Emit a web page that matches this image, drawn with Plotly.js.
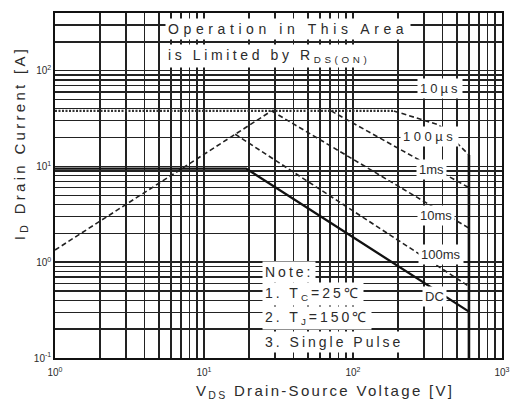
<!DOCTYPE html>
<html>
<head>
<meta charset="utf-8">
<script src="https://cdn.plot.ly/plotly-3.0.1.min.js"></script>
<style>
  html, body { margin: 0; padding: 0; background: #fff; }
  #chart { width: 512px; height: 410px; }
</style>
</head>
<body>
<div id="chart"></div>
<script>
// ---- Data (V in volts, I in amperes) ----
const vRds = [1, 28.4];            const iRds = [1.34, 38];          // R_DS(on) limit
const vIdm = [1, 188];             const iIdm = [38, 38];            // pulsed current limit
const v10us = [188, 376, 600];     const i10us = [38, 27.2, 13.2];
const v100us = [71.3, 600];        const i100us = [38, 6.0];
const v1ms = [28.4, 600];          const i1ms = [38, 2.27];
const v10ms = [16.2, 600];         const i10ms = [21.7, 0.56];
const vDC = [1, 19.2, 600];        const iDC = [9.5, 9.5, 0.305];
const vBV = [600, 600];            const iBV = [0.1, 13.2];          // V_DSS limit

const xTickVals = [1, 10, 100, 1000];
const xTickText = ['10<sup>0</sup>', '10<sup>1</sup>', '10<sup>2</sup>', '10<sup>3</sup>'];
const yTickVals = [0.1, 1, 10, 100];
const yTickText = ['10<sup>-1</sup>', '10<sup>0</sup>', '10<sup>1</sup>', '10<sup>2</sup>'];

const pulseLabels = ['10µs', '100µs', '1ms', '10ms', '100ms', 'DC'];

const INK = '#2b2b2b';
const FONT = 'Liberation Sans, Arial, sans-serif';

function ls(txt, px) { return '<span style="letter-spacing:' + px + 'px">' + txt + '</span>'; }

const dashLine = {color: '#222', width: 1.6, dash: '5px,3px'};
const traces = [
  {x: vRds, y: iRds, mode: 'lines', line: dashLine, name: 'RDS(on)'},
  {x: vIdm, y: iIdm, mode: 'lines', line: {color: '#333', width: 2.4, dash: '2px,1.5px'}, name: 'IDM'},
  {x: v10us, y: i10us, mode: 'lines', line: dashLine, name: pulseLabels[0]},
  {x: v100us, y: i100us, mode: 'lines', line: dashLine, name: pulseLabels[1]},
  {x: v1ms, y: i1ms, mode: 'lines', line: dashLine, name: pulseLabels[2]},
  {x: v10ms, y: i10ms, mode: 'lines', line: dashLine, name: pulseLabels[3]},
  {x: vDC, y: iDC, mode: 'lines', line: {color: '#111', width: 2.3}, name: pulseLabels[5]},
  {x: vBV, y: iBV, mode: 'lines', line: {color: '#111', width: 2.6}, name: 'VDSS'}
];

const GRID = '#222';
const axisCommon = {
  type: 'log',
  showgrid: true, gridcolor: GRID, gridwidth: 1.5,
  minor: {tickmode: 'linear', dtick: 'D1', showgrid: true, gridcolor: GRID, gridwidth: 1.4, ticks: ''},
  showline: true, mirror: true, linecolor: '#111', linewidth: 1.8,
  ticks: '', tickmode: 'array',
  tickfont: {family: FONT, size: 10, color: INK},
  zeroline: false
};

const layout = {
  width: 512, height: 410,
  margin: {l: 55, r: 10, t: 13, b: 52},
  paper_bgcolor: '#fff', plot_bgcolor: '#fff',
  showlegend: false,
  font: {family: FONT, color: INK},
  xaxis: Object.assign({}, axisCommon, {
    range: [0, 3], tickvals: xTickVals, ticktext: xTickText, ticklabelstandoff: 4
  }),
  yaxis: Object.assign({}, axisCommon, {
    range: [-1, Math.log10(400)], tickvals: yTickVals, ticktext: yTickText
  }),
  annotations: []
};

function note(text, xp, yp, size, spacing, anchor, bg) {
  return {
    xref: 'paper', yref: 'paper', x: xp, y: yp,
    xanchor: anchor || 'center', yanchor: 'middle',
    text: ls(text, spacing), showarrow: false,
    font: {family: FONT, size: size, color: INK},
    bgcolor: bg === false ? 'rgba(0,0,0,0)' : '#fff', borderpad: 2
  };
}

// axis titles
layout.annotations.push(note('V<sub>DS</sub> Drain-Source Voltage [V]', 0.604, -0.098, 15, 2.3, 'center', false));
const yTitle = note('I<sub>D</sub> Drain Current [A]', -0.078, 0.623, 15, 3.3, 'center', false);
yTitle.textangle = -90;
layout.annotations.push(yTitle);

// top limitation note
layout.annotations.push(note('Operation in This Area', 0.245, 0.954, 14, 4.6, 'left'));
layout.annotations.push(note('is Limited by R<sub>DS(ON)</sub>', 0.245, 0.876, 14, 3.6, 'left'));
// pulse labels
const labelPos = [[0.861, 0.780, 3], [0.837, 0.641, 3.5], [0.843, 0.545, 0], [0.852, 0.414, 0], [0.864, 0.299, 0], [0.850, 0.177, 0]];
pulseLabels.forEach((t, k) => {
  layout.annotations.push(note(t, labelPos[k][0], labelPos[k][1], 13, labelPos[k][2]));
});
// conditions note
layout.annotations.push(note('Note:', 0.463, 0.249, 14, 3, 'left'));
layout.annotations.push(note('1. T<sub>C</sub>=25℃', 0.463, 0.186, 14, 3, 'left'));
layout.annotations.push(note('2. T<sub>J</sub>=150℃', 0.463, 0.116, 14, 3, 'left'));
layout.annotations.push(note('3. Single Pulse', 0.463, 0.046, 14, 3, 'left'));

Plotly.newPlot('chart', traces, layout, {staticPlot: true, displayModeBar: false});
</script>
</body>
</html>
